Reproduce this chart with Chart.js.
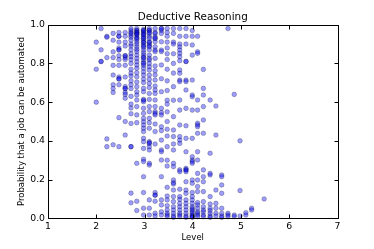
<!DOCTYPE html>
<html>
<head>
<meta charset="utf-8">
<script src="https://cdn.jsdelivr.net/npm/chart.js@4.4.1/dist/chart.umd.min.js"></script>
<style>
html,body{margin:0;padding:0;background:#fff;}
#wrap{width:374px;height:249px;}
</style>
</head>
<body>
<div id="wrap"><canvas id="c" width="374" height="249"></canvas></div>
<script>
const chartTitle = "Deductive Reasoning";
const xAxisLabel = "Level";
const yAxisLabel = "Probability that a job can be automated";
const xTicks = [1, 2, 3, 4, 5, 6, 7];
const yTicks = [0.0, 0.2, 0.4, 0.6, 0.8, 1.0];

// Level of each column of points
const levels = [2.0, 2.1, 2.22, 2.35, 2.47, 2.6, 2.72, 2.84, 2.98, 3.1, 3.22, 3.35, 3.47, 3.6,
  3.73, 3.86, 3.99, 4.1, 4.22, 4.36, 4.48, 4.6, 4.73, 4.86, 4.98, 5.1, 5.22, 5.48];

// Probabilities of automation for the jobs at each level
const probabilities = [
  [0.91, 0.77, 0.60],
  [0.98, 0.87, 0.81, 0.81],
  [0.94, 0.935, 0.83, 0.41, 0.37],
  [0.955, 0.92, 0.86, 0.83, 0.79, 0.74, 0.69, 0.67, 0.65, 0.38],
  [0.96, 0.94, 0.94, 0.91, 0.88, 0.87, 0.87, 0.84, 0.82, 0.79, 0.73, 0.72, 0.72, 0.69, 0.52, 0.37],
  [0.96, 0.94, 0.91, 0.89, 0.84, 0.84, 0.83, 0.82, 0.79, 0.73, 0.68, 0.67, 0.67, 0.65, 0.64, 0.62, 0.50, 0.43],
  [0.98, 0.97, 0.96, 0.955, 0.945, 0.935, 0.92, 0.90, 0.89, 0.87, 0.85, 0.835, 0.82, 0.80, 0.77, 0.75,
   0.735, 0.71, 0.69, 0.67, 0.63, 0.59, 0.57, 0.54, 0.49, 0.37, 0.37, 0.13, 0.08],
  [0.98, 0.97, 0.97, 0.96, 0.96, 0.955, 0.95, 0.947, 0.935, 0.93, 0.924, 0.912, 0.90, 0.886, 0.873, 0.861,
   0.843, 0.826, 0.809, 0.792, 0.775, 0.752, 0.731, 0.704, 0.68, 0.654, 0.637, 0.611, 0.577, 0.534,
   0.494, 0.284, 0.088, 0.04],
  [0.976, 0.97, 0.969, 0.962, 0.955, 0.95, 0.947, 0.938, 0.93, 0.928, 0.917, 0.91, 0.907, 0.895, 0.89,
   0.883, 0.869, 0.855, 0.843, 0.831, 0.83, 0.818, 0.804, 0.80, 0.79, 0.775, 0.757, 0.74, 0.719, 0.701,
   0.671, 0.654, 0.614, 0.61, 0.602, 0.568, 0.542, 0.516, 0.499, 0.482, 0.465, 0.448, 0.413, 0.396,
   0.361, 0.305, 0.293, 0.215, 0.133, 0.052, 0.017],
  [0.98, 0.97, 0.97, 0.96, 0.955, 0.94, 0.93, 0.91, 0.91, 0.90, 0.89, 0.886, 0.87, 0.843, 0.826, 0.818,
   0.80, 0.783, 0.766, 0.74, 0.718, 0.697, 0.676, 0.645, 0.614, 0.577, 0.551, 0.516, 0.494, 0.465,
   0.396, 0.39, 0.387, 0.37, 0.353, 0.284, 0.275, 0.095, 0.052, 0.017],
  [0.98, 0.96, 0.955, 0.938, 0.93, 0.929, 0.912, 0.886, 0.869, 0.861, 0.826, 0.787, 0.762, 0.74, 0.714,
   0.683, 0.663, 0.645, 0.611, 0.577, 0.551, 0.542, 0.534, 0.487, 0.448, 0.384, 0.133, 0.12, 0.119,
   0.088, 0.026, 0.012],
  [0.98, 0.98, 0.97, 0.955, 0.912, 0.869, 0.861, 0.792, 0.721, 0.654, 0.568, 0.546, 0.534, 0.473, 0.453,
   0.404, 0.353, 0.344, 0.301, 0.215, 0.095, 0.069, 0.034, 0.017],
  [0.98, 0.96, 0.94, 0.91, 0.88, 0.85, 0.82, 0.77, 0.71, 0.66, 0.61, 0.59, 0.55, 0.50, 0.46, 0.425, 0.37,
   0.30, 0.27, 0.16, 0.115, 0.095, 0.065, 0.043, 0.026, 0.017, 0.009],
  [0.98, 0.955, 0.91, 0.90, 0.85, 0.80, 0.75, 0.68, 0.61, 0.525, 0.456, 0.422, 0.384, 0.353, 0.284, 0.267,
   0.198, 0.184, 0.177, 0.146, 0.112, 0.086, 0.06, 0.043, 0.026, 0.012, 0.005],
  [0.98, 0.94, 0.90, 0.886, 0.869, 0.852, 0.835, 0.814, 0.766, 0.749, 0.714, 0.706, 0.611, 0.559, 0.482,
   0.422, 0.404, 0.387, 0.25, 0.241, 0.15, 0.112, 0.098, 0.077, 0.06, 0.043, 0.026, 0.017, 0.009],
  [0.98, 0.94, 0.90, 0.81, 0.81, 0.714, 0.706, 0.663, 0.568, 0.478, 0.413, 0.344, 0.258, 0.25, 0.25, 0.241,
   0.189, 0.146, 0.129, 0.095, 0.077, 0.06, 0.043, 0.026, 0.012, 0.005],
  [0.97, 0.94, 0.895, 0.843, 0.714, 0.637, 0.628, 0.559, 0.413, 0.318, 0.301, 0.293, 0.284, 0.198, 0.181,
   0.133, 0.112, 0.095, 0.077, 0.06, 0.05, 0.043, 0.035, 0.026, 0.017, 0.012, 0.009, 0.005],
  [0.94, 0.86, 0.852, 0.611, 0.559, 0.491, 0.482, 0.473, 0.439, 0.344, 0.301, 0.232, 0.198, 0.164, 0.138,
   0.081, 0.069, 0.052, 0.034, 0.026, 0.017, 0.009],
  [0.769, 0.671, 0.637, 0.577, 0.508, 0.439, 0.25, 0.215, 0.189, 0.138, 0.086, 0.06, 0.043, 0.034, 0.017, 0.009],
  [0.611, 0.336, 0.232, 0.224, 0.112, 0.074, 0.052, 0.04, 0.026, 0.012, 0.005],
  [0.58, 0.43, 0.146, 0.077, 0.052, 0.026, 0.012],
  [0.224, 0.215, 0.172, 0.129, 0.052, 0.026, 0.012, 0.005],
  [0.98, 0.026, 0.017, 0.009],
  [0.64, 0.017, 0.009],
  [0.40, 0.143, 0.012],
  [0.029, 0.017],
  [0.052, 0.043],
  [0.10]
];

const points = [];
levels.forEach((lv, i) => probabilities[i].forEach(p => points.push({x: lv, y: p})));

const FONT = "'DejaVu Sans', sans-serif";

const frameTicksTitle = {
  id: 'frameTicksTitle',
  afterDraw(chart) {
    const {ctx, chartArea: a, scales} = chart;
    const L = 4;
    const l = Math.round(a.left) + 0.5, r = Math.round(a.right) + 0.5;
    const t = Math.round(a.top) + 0.5, b = Math.round(a.bottom) + 0.5;
    ctx.save();
    ctx.strokeStyle = '#000';
    ctx.lineWidth = 1;
    ctx.beginPath();
    xTicks.forEach(v => {
      const px = Math.round(scales.x.getPixelForValue(v)) + 0.5;
      ctx.moveTo(px, b); ctx.lineTo(px, b - L);
      ctx.moveTo(px, t); ctx.lineTo(px, t + L);
    });
    yTicks.forEach(v => {
      const py = Math.round(scales.y.getPixelForValue(v)) + 0.5;
      ctx.moveTo(l, py); ctx.lineTo(l + L, py);
      ctx.moveTo(r, py); ctx.lineTo(r - L, py);
    });
    ctx.moveTo(l, t); ctx.lineTo(r, t);
    ctx.moveTo(r, t); ctx.lineTo(r, b);
    ctx.moveTo(r, b); ctx.lineTo(l, b);
    ctx.moveTo(l, b); ctx.lineTo(l, t);
    ctx.stroke();
    // title centred over the axes, like matplotlib
    ctx.fillStyle = '#000';
    ctx.font = "10.4px " + FONT;
    ctx.textAlign = 'center';
    ctx.textBaseline = 'middle';
    ctx.fillText(chartTitle, (a.left + a.right) / 2, 17.3);
    ctx.restore();
  }
};

new Chart(document.getElementById('c'), {
  type: 'scatter',
  data: {
    datasets: [{
      data: points,
      pointRadius: 2.3,
      pointHoverRadius: 2.3,
      pointBorderWidth: 0.6,
      backgroundColor: 'rgba(0,0,255,0.38)',
      borderColor: 'rgba(0,0,40,0.45)',
      clip: false
    }]
  },
  options: {
    responsive: false,
    animation: false,
    events: [],
    layout: {padding: {left: 0, right: 36.5, top: 24.7, bottom: 0}},
    plugins: {
      legend: {display: false},
      tooltip: {enabled: false},
      title: {display: false}
    },
    scales: {
      x: {
        type: 'linear',
        min: 1, max: 7,
        afterFit(s) { s.height = 30.7; },
        afterBuildTicks(s) { s.ticks = xTicks.map(v => ({value: v})); },
        grid: {display: false, drawTicks: false},
        border: {display: false},
        ticks: {color: '#000', font: {family: FONT, size: 9.3}, padding: 3, maxRotation: 0,
          callback: v => String(v)},
        title: {display: true, text: xAxisLabel, color: '#000',
          font: {family: FONT, size: 8.5, lineHeight: 1.2}, padding: {top: 0, bottom: 6.2}}
      },
      y: {
        type: 'linear',
        min: 0, max: 1,
        afterFit(s) { s.width = 48; },
        afterBuildTicks(s) { s.ticks = yTicks.map(v => ({value: v})); },
        grid: {display: false, drawTicks: false},
        border: {display: false},
        ticks: {color: '#000', font: {family: FONT, size: 9.3}, padding: 3,
          callback: v => Number(v).toFixed(1)},
        title: {display: true, text: yAxisLabel, color: '#000',
          font: {family: FONT, size: 8.5, lineHeight: 1.2}, padding: {top: 16.6, bottom: 0}}
      }
    }
  },
  plugins: [frameTicksTitle]
});
</script>
</body>
</html>
